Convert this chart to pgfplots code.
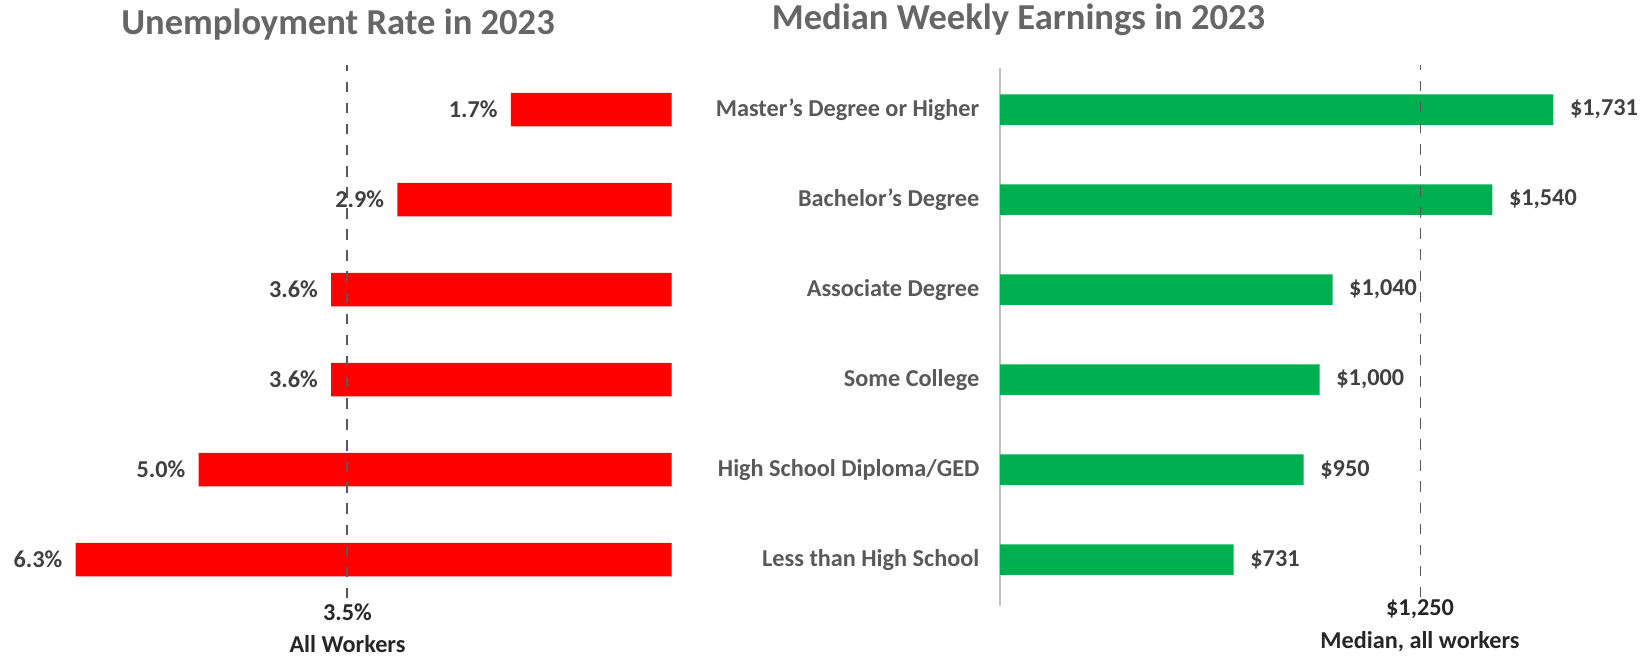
\documentclass[border=0pt]{standalone}
\usepackage{fontspec}
\setmainfont{Carlito}
\usepackage{pgfplots}
\pgfplotsset{compat=1.18}
\definecolor{barred}{HTML}{FF0000}
\definecolor{bargreen}{HTML}{00B050}
\definecolor{titlegray}{HTML}{666666}
\definecolor{catgray}{HTML}{595959}
\definecolor{valgray}{HTML}{404040}
\definecolor{dashgray}{HTML}{595959}
\newcommand{\lblfont}{\bfseries\fontsize{6.9}{8}\selectfont}
\begin{document}
\begin{tikzpicture}
\useasboundingbox (0,0) rectangle (16.45cm,6.6cm);
% Left panel
\begin{axis}[
  at={(0cm,0.554cm)}, anchor=south west,
  scale only axis, width=6.717cm, height=5.4cm,
  xmin=0, xmax=7.1, x dir=reverse,
  ymin=-0.5, ymax=5.5,
  xbar, bar width=0.37,
  hide axis,
  clip=false,
  point meta=explicit symbolic,
  nodes near coords,
  every node near coord/.style={anchor=east, inner sep=0pt, xshift=-0.126cm, font=\lblfont, text=valgray},
]
\addplot[draw=none, fill=barred] coordinates {(6.3,0)[6.3\%] (5.0,1)[5.0\%] (3.6,2)[3.6\%] (3.6,3)[3.6\%] (2.9,4)[2.9\%] (1.7,5)[1.7\%]};
\draw[dashed, dashgray, line width=0.5pt] (axis cs:3.43,-0.43) -- (axis cs:3.43,5.5);
\end{axis}
% Right panel
\begin{axis}[
  at={(10cm,0.554cm)}, anchor=south west,
  scale only axis, width=5.755cm, height=5.4cm,
  xmin=0, xmax=1800,
  ymin=-0.5, ymax=5.5,
  xbar, bar width=0.34,
  axis line style={draw=none},
  tick style={draw=none},
  xtick=\empty,
  ytick={0,1,2,3,4,5},
  yticklabels={Less than High School, High School Diploma/GED, Some College, Associate Degree, Bachelor's Degree, Master's Degree or Higher},
  yticklabel style={anchor=east, inner sep=0pt, xshift=-0.05cm, font=\lblfont, text=catgray},
  clip=false,
  point meta=explicit symbolic,
  nodes near coords,
  every node near coord/.style={anchor=west, inner sep=0pt, xshift=0.16cm, font=\lblfont, text=valgray},
]
\draw[black!25, line width=0.4pt] (axis cs:0,-0.52) -- (axis cs:0,5.46);
\addplot[draw=none, fill=bargreen] coordinates {(731,0)[\$731] (950,1)[\$950] (1000,2)[\$1,000] (1040,3)[\$1,040] (1540,4)[\$1,540] (1731,5)[\$1,731]};
\draw[dashed, dashgray, line width=0.5pt] (axis cs:1315,-0.42) -- (axis cs:1315,5.5);
\end{axis}
% Titles
\node[font=\bfseries\fontsize{10.4}{12}\selectfont, text=titlegray] at (3.38cm,6.35cm) {Unemployment Rate in 2023};
\node[font=\bfseries\fontsize{10.4}{12}\selectfont, text=titlegray] at (10.185cm,6.40cm) {Median Weekly Earnings in 2023};
% Reference line labels
\node[font=\lblfont, text=black!85] at (3.475cm,0.48cm) {3.5\%};
\node[font=\lblfont, text=black!85] at (3.475cm,0.16cm) {All Workers};
\node[font=\lblfont, text=black!85] at (14.2cm,0.51cm) {\$1,250};
\node[font=\lblfont, text=black!85] at (14.2cm,0.18cm) {Median, all workers};
\end{tikzpicture}
\end{document}
